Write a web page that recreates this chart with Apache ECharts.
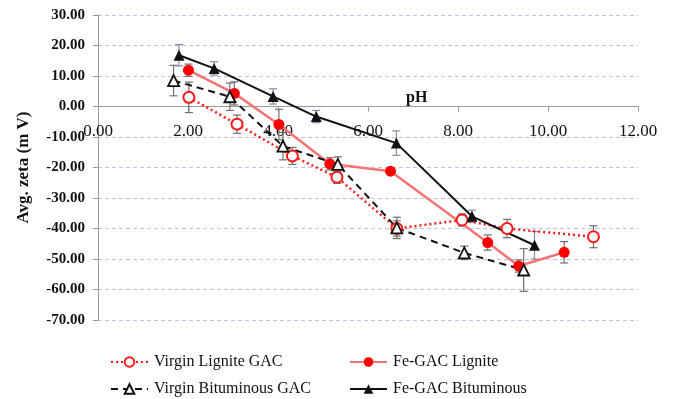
<!DOCTYPE html>
<html>
<head>
<meta charset="utf-8">
<script src="https://cdn.jsdelivr.net/npm/echarts@6/dist/echarts.min.js"></script>
<style>
  html, body { margin: 0; padding: 0; background: #fff; }
  #chart { width: 674px; height: 399px; }
</style>
</head>
<body>
<div id="chart"></div>
<script>
// 数据 (pH, zeta, error)
var phVL = [2.02, 3.09, 4.32, 5.31, 6.64, 8.09, 9.09, 11.01]
var zetaVL = [3.0, -5.8, -16.2, -23.2, -40.0, -37.2, -40.0, -42.7]
var errVL = [5.0, 3.0, 2.8, 2.0, 2.5, 2.0, 3.0, 3.6]

var phFL = [2.01, 3.03, 4.02, 5.15, 6.50, 8.66, 9.35, 10.36]
var zetaFL = [11.9, 4.3, -5.9, -18.8, -21.2, -44.6, -52.3, -47.8]
var errFL = [2.0, 3.8, 5.0, 2.0, 1.0, 2.5, 2.0, 3.5]

var phVB = [1.68, 2.93, 4.11, 5.33, 6.64, 8.14, 9.46]
var zetaVB = [8.5, 3.2, -13.0, -19.0, -39.8, -48.0, -53.6]
var errVB = [5.0, 4.5, 4.5, 2.5, 3.5, 2.2, 7.0]

var phFB = [1.80, 2.58, 3.89, 4.85, 6.63, 8.31, 9.70]
var zetaFB = [16.8, 12.5, 3.3, -3.3, -12.0, -36.0, -45.5]
var errFB = [3.5, 2.2, 2.5, 2.0, 4.0, 2.0, 4.5]

var names = ['Virgin Lignite GAC', 'Fe-GAC Lignite', 'Virgin Bituminous GAC', 'Fe-GAC Bituminous']

var serif = '"Liberation Serif", "Times New Roman", serif'

function pairs(xs, ys) {
  let out = []
  for (let i = 0; i < xs.length; i++) out.push([xs[i], ys[i]])
  return out
}
function triples(xs, ys, es) {
  let out = []
  for (let i = 0; i < xs.length; i++) out.push([xs[i], ys[i], es[i]])
  return out
}

// 误差线
function errorBar(xs, ys, es, color) {
  return {
    type: 'custom',
    silent: true,
    z: 1,
    data: triples(xs, ys, es),
    renderItem: function (params, api) {
      let x = api.value(0), y = api.value(1), e = api.value(2)
      let top = api.coord([x, y + e])
      let bot = api.coord([x, y - e])
      let style = { stroke: color, lineWidth: 1.2 }
      return {
        type: 'group',
        children: [
          { type: 'line', shape: { x1: top[0], y1: top[1], x2: bot[0], y2: bot[1] }, style: style },
          { type: 'line', shape: { x1: top[0] - 4, y1: top[1], x2: top[0] + 4, y2: top[1] }, style: style },
          { type: 'line', shape: { x1: bot[0] - 4, y1: bot[1], x2: bot[0] + 4, y2: bot[1] }, style: style }
        ]
      }
    }
  }
}

function legendAt(name, left, top) {
  return {
    data: [name],
    left: left,
    top: top,
    padding: 0,
    itemWidth: 37,
    itemHeight: 12,
    itemGap: 0,
    textStyle: { fontFamily: serif, fontSize: 16, color: '#111', padding: [0, 0, 0, 1] }
  }
}

// 网格: 上 15, 下 320 → 0 在 y≈106.5
let gridTop = 15, gridBottom = 320
let zeroOffset = -(gridBottom - (gridTop + (30 / 100) * (gridBottom - gridTop)))

let option = {
  backgroundColor: '#fff',
  animation: false,
  grid: { left: 98, right: 36, top: gridTop, bottom: 399 - gridBottom },
  legend: [
    legendAt(names[0], 110, 354),
    legendAt(names[1], 349, 354),
    legendAt(names[2], 110, 381),
    legendAt(names[3], 349, 381)
  ],
  graphic: [
    {
      type: 'text', left: 406, top: 90,
      style: { text: 'pH', font: 'bold 16px ' + serif, fill: '#111' }
    }
  ],
  xAxis: {
    type: 'value',
    min: 0, max: 12, interval: 2,
    offset: zeroOffset,
    axisLine: { onZero: false, lineStyle: { color: '#999', width: 1 } },
    axisTick: { show: true, length: 5, lineStyle: { color: '#999' } },
    splitLine: { show: false },
    axisLabel: {
      margin: 17,
      fontFamily: serif, fontSize: 17, color: '#111',
      formatter: function (v) { return v.toFixed(2) }
    }
  },
  yAxis: {
    type: 'value',
    min: -70, max: 30, interval: 10,
    name: 'Avg. zeta (m V)',
    nameLocation: 'middle',
    nameGap: 66,
    nameTextStyle: { fontFamily: serif, fontSize: 17, fontWeight: 'bold', color: '#111' },
    axisLine: { show: true, lineStyle: { color: '#999', width: 1 } },
    axisTick: { show: true, length: 5, lineStyle: { color: '#999' } },
    splitLine: { show: true, lineStyle: { color: '#b8c6e6', type: [4, 3], width: 1 } },
    axisLabel: {
      margin: 13,
      fontFamily: serif, fontSize: 15, fontWeight: 'bold', color: '#111',
      formatter: function (v) { return v.toFixed(2) }
    }
  },
  series: [
    errorBar(phVL, zetaVL, errVL, '#6f6f6f'),
    errorBar(phFL, zetaFL, errFL, '#6f6f6f'),
    errorBar(phVB, zetaVB, errVB, '#6f6f6f'),
    errorBar(phFB, zetaFB, errFB, '#8a8aa8'),
    {
      name: names[0],
      type: 'line',
      z: 3,
      data: pairs(phVL, zetaVL),
      symbol: 'circle',
      symbolSize: 11,
      lineStyle: { color: '#ff1a1a', width: 2.5, type: [2, 3] },
      itemStyle: { color: '#fff', borderColor: '#ff1a1a', borderWidth: 2 }
    },
    {
      name: names[1],
      type: 'line',
      z: 3,
      data: pairs(phFL, zetaFL),
      symbol: 'circle',
      symbolSize: 11,
      lineStyle: { color: '#f47474', width: 2.5 },
      itemStyle: { color: '#ff0000', borderColor: '#ff0000', borderWidth: 0 }
    },
    {
      name: names[2],
      type: 'line',
      z: 3,
      data: pairs(phVB, zetaVB),
      symbol: 'triangle',
      symbolSize: 11,
      lineStyle: { color: '#111', width: 2, type: [7, 5] },
      itemStyle: { color: '#fff', borderColor: '#111', borderWidth: 1.8 }
    },
    {
      name: names[3],
      type: 'line',
      z: 3,
      data: pairs(phFB, zetaFB),
      symbol: 'triangle',
      symbolSize: 11,
      lineStyle: { color: '#111', width: 2 },
      itemStyle: { color: '#111', borderColor: '#111', borderWidth: 0 }
    }
  ]
}

let myChart = echarts.init(document.getElementById('chart'), null, { renderer: 'canvas' })
myChart.setOption(option)
</script>
</body>
</html>
